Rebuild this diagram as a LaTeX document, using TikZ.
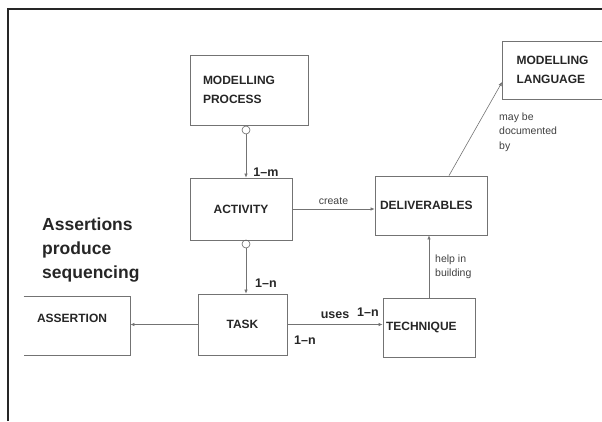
\documentclass[tikz,border=0pt]{standalone}
\usepackage{fontspec}
\setmainfont{Liberation Sans}
\usetikzlibrary{arrows.meta}

\begin{document}
\begin{tikzpicture}[x=1pt,y=-1pt,>={Latex[length=4pt,width=3.5pt]},
    box/.style={draw=black!55,line width=0.8pt,font=\fontsize{12}{18.5}\selectfont\bfseries,text=black!85},
    agg/.style={circle,draw=black!60,line width=0.6pt,inner sep=0pt,minimum size=8pt},
    lnk/.style={->,draw=black!55,line width=0.6pt},
    card/.style={font=\fontsize{12.5}{14}\selectfont\bfseries,text=black!85,inner sep=0pt},
    note/.style={font=\fontsize{10.5}{14.5}\selectfont,text=black!75,inner sep=0pt,align=left}]
  \useasboundingbox (0,0) rectangle (602,421);
  \clip (0,0) rectangle (602,421);

  % frame
  \draw[line width=1.4pt,black!85] (8,421) -- (8,9) -- (602,9);

  % boxes
  \node[box,minimum height=70pt,text width=92pt,inner xsep=13pt,align=left] (mp) at (249,90) {MODELLING\\PROCESS};
  \node[box,minimum height=62pt,text width=92pt,inner xsep=5pt,align=center] (act) at (241,209) {ACTIVITY};
  \node[box,minimum height=59pt,text width=102pt,inner xsep=5pt,align=left] (del) at (431,205.5) {DELIVERABLES};
  \node[box,minimum height=61pt,text width=79pt,inner xsep=5pt,align=center] (task) at (242.5,324.5) {TASK};
  \node[box,minimum height=59pt,text width=86pt,inner xsep=3pt,align=left] (tech) at (429,327.5) {TECHNIQUE};
  \node[box,draw=none,minimum height=58pt,text width=80pt,inner xsep=13pt,text depth=16pt,align=left] (asr) at (77,326) {ASSERTION};
  \draw[black!55,line width=0.8pt] (asr.north west) -- (asr.north east) -- (asr.south east) -- (asr.south west);
  \node[box,minimum height=58pt,text width=89pt,inner xsep=14pt,align=left] (ml) at (561,70) {MODELLING\\LANGUAGE};

  % heading
  \node[anchor=north west,inner sep=0pt,align=left,text=black!85,
    font=\fontsize{17.5}{24}\selectfont\bfseries] (head) at (42,218) {Assertions\\produce\\sequencing};

  % aggregation
  \node[agg] (c1) at (246,130) {};
  \node[agg] (c2) at (246,244) {};
  \draw[lnk] (c1) -- (c1 |- act.north);
  \draw[lnk] (c2) -- (c2 |- task.north);
  \node[card] (n1) at (266,172) {1--m};
  \node[card] (n2) at (266,283) {1--n};

  % links
  \draw[lnk] (act.east) -- (act.east -| del.west) node[midway,above=4pt,note] {create};
  \draw[lnk] (tech.north) -- (tech.north |- del.south);
  \node[note,anchor=west] (help) at (435,267) {help in\\building};
  \draw[lnk] ([xshift=18pt]del.north) -- ([yshift=-12pt]ml.west);
  \node[note,anchor=west] (doc) at (499,132) {may be\\documented\\by};
  \draw[lnk] (task.west) -- (task.west -| asr.east);
  \draw[lnk] (task.east) -- (task.east -| tech.west);
  \node[card] (uses) at (335,315) {uses};
  \node[card] (n3) at (368,312) {1--n};
  \node[card] (n4) at (305,340) {1--n};
\end{tikzpicture}
\end{document}
